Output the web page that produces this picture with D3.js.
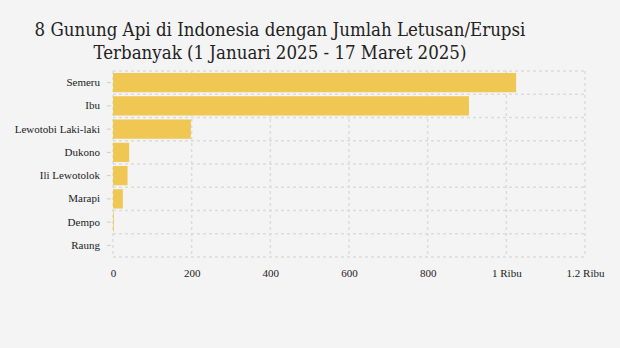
<!DOCTYPE html>
<html><head><meta charset="utf-8">
<script src="https://cdn.jsdelivr.net/npm/d3@7"></script>
<style>body{margin:0;background:#f4f4f4;}svg{display:block;}</style>
</head><body><svg id="c" width="620" height="348"></svg>
<script>
const categories = ["Semeru","Ibu","Lewotobi Laki-laki","Dukono","Ili Lewotolok","Marapi","Dempo","Raung"];
const values = [1025,905,198,41,37,25,2,0];
const tickValues = [0,200,400,600,800,1000,1200];
const tickLabels = ["0","200","400","600","800","1 Ribu","1.2 Ribu"];
const titleLines = ["8 Gunung Api di Indonesia dengan Jumlah Letusan/Erupsi","Terbanyak (1 Januari 2025 - 17 Maret 2025)"];

const svg = d3.select("#c");
svg.append("rect").attr("width",620).attr("height",348).attr("fill","#f4f4f4");
const m = {left:113,right:585,top:71,bottom:257};
const x = d3.scaleLinear().domain([0,1200]).range([m.left,m.right]);
const y = d3.scaleBand().domain(categories).range([m.top,m.bottom]).paddingInner(0.17).paddingOuter(0.085);
const yb = d3.scaleBand().domain(categories).range([m.top,m.bottom]);

const grid = svg.append("g").attr("stroke","#dcdcdc").attr("stroke-width",1.5).attr("stroke-dasharray","3,3");
tickValues.forEach(t=>grid.append("line").attr("x1",x(t)).attr("x2",x(t)).attr("y1",m.top).attr("y2",m.bottom));
categories.forEach(c=>grid.append("line").attr("x1",m.left).attr("x2",m.right).attr("y1",yb(c)).attr("y2",yb(c)));
grid.append("line").attr("x1",m.left).attr("x2",m.right).attr("y1",m.bottom).attr("y2",m.bottom);

svg.append("g").selectAll("rect").data(categories).join("rect")
  .attr("x",x(0)).attr("y",d=>y(d)).attr("height",y.bandwidth())
  .attr("width",(d,i)=>x(values[i])-x(0)).attr("fill","#f0c752");

const serif = "'Liberation Serif', 'Times New Roman', Times, serif";
const yAxis = svg.append("g").attr("transform",`translate(${m.left-2},0)`)
  .call(d3.axisLeft(yb).tickSize(4).tickPadding(7));
yAxis.select(".domain").remove();
yAxis.selectAll("line").attr("stroke","#ccc");
yAxis.selectAll("text").style("font-family",serif).style("font-size","11px").attr("fill","#222");

const xAxis = svg.append("g").attr("transform",`translate(0,${m.bottom+4})`)
  .call(d3.axisBottom(x).tickValues(tickValues).tickFormat((d,i)=>tickLabels[i]).tickSize(0).tickPadding(8));
xAxis.select(".domain").remove();
xAxis.selectAll("text").style("font-family",serif).style("font-size","11px").attr("fill","#222");

const tt = svg.append("text").attr("text-anchor","middle").style("font-family","'DejaVu Serif Condensed', 'DejaVu Serif', serif").style("font-size","18.5px").attr("fill","#222");
titleLines.forEach((l,i)=>tt.append("tspan").attr("x",280).attr("y",36+i*23).text(l));
</script></body></html>
